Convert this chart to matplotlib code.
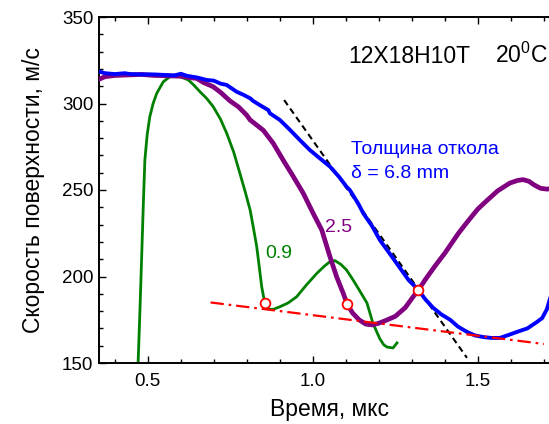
import matplotlib
matplotlib.use("Agg")
import matplotlib.pyplot as plt
from matplotlib.ticker import MultipleLocator, FormatStrFormatter

plt.rcParams['font.family'] = ['Liberation Sans', 'DejaVu Sans']
plt.rcParams['mathtext.fontset'] = 'custom'
plt.rcParams['mathtext.rm'] = 'Liberation Sans'

# Free-surface velocity profiles, 12X18H10T steel at 20 C
t_68 = [0.352, 0.37, 0.40, 0.43, 0.446, 0.48, 0.52, 0.55, 0.58, 0.60, 0.618, 0.65,
        0.678, 0.70, 0.72, 0.739, 0.769, 0.79, 0.81, 0.819, 0.84, 0.865, 0.87, 0.90,
        0.931, 0.96, 0.991, 1.02, 1.052, 1.08, 1.102, 1.112, 1.138, 1.153, 1.18,
        1.203, 1.23, 1.254, 1.29, 1.320, 1.34, 1.364, 1.39, 1.416, 1.44, 1.467,
        1.49, 1.516, 1.54, 1.567, 1.59, 1.619, 1.65, 1.679, 1.695, 1.709, 1.72,
        1.735, 1.75]
v_68 = [318.5, 317.5, 317.0, 317.5, 317.0, 316.8, 316.8, 316.5, 316.2, 317.2, 316.0,
        315.0, 313.6, 313.2, 311.5, 310.7, 306.8, 305.0, 303.0, 301.5, 299.0, 296.2,
        294.3, 290.5, 284.7, 279.0, 273.1, 268.5, 263.5, 257.5, 251.9, 250.0, 242.0,
        236.5, 229.0, 221.1, 214.0, 207.6, 198.0, 192.2, 187.0, 182.0, 178.0, 175.0,
        171.0, 168.0, 166.0, 165.0, 164.5, 164.5, 166.0, 168.0, 170.0, 173.7, 176.0,
        181.0, 188.0, 197.0, 205.0]

t_25 = [0.352, 0.37, 0.40, 0.44, 0.48, 0.52, 0.56, 0.60, 0.625, 0.648, 0.67, 0.698,
        0.72, 0.749, 0.775, 0.799, 0.81, 0.83, 0.850, 0.860, 0.880, 0.910, 0.941,
        0.971, 1.001, 1.027, 1.052, 1.072, 1.092, 1.104, 1.12, 1.14, 1.16, 1.18,
        1.20, 1.22, 1.25, 1.28, 1.304, 1.320, 1.34, 1.37, 1.40, 1.441, 1.47, 1.50,
        1.528, 1.56, 1.597, 1.62, 1.637, 1.655, 1.67, 1.69, 1.709, 1.73, 1.75]
v_25 = [314.0, 315.5, 316.2, 316.5, 316.8, 316.2, 316.0, 315.8, 315.0, 314.5, 312.0,
        309.7, 306.5, 301.5, 298.0, 293.4, 290.5, 287.5, 284.5, 282.0, 277.0, 267.3,
        257.7, 248.1, 236.5, 226.9, 211.4, 199.9, 190.3, 184.1, 179.0, 175.0, 172.5,
        172.0, 173.0, 174.5, 177.0, 182.0, 188.3, 192.2, 198.0, 206.0, 213.5, 224.9,
        232.0, 239.0, 244.0, 249.5, 254.0, 255.5, 256.0, 255.0, 253.0, 251.0, 250.5,
        251.0, 252.0]

t_09 = [0.4705, 0.476, 0.481, 0.486, 0.491, 0.498, 0.506, 0.516, 0.527, 0.547, 0.567,
        0.597, 0.623, 0.640, 0.658, 0.678, 0.698, 0.720, 0.739, 0.760, 0.779, 0.795,
        0.810, 0.820, 0.830, 0.838, 0.845, 0.850, 0.855, 0.862, 0.870, 0.880, 0.90,
        0.925, 0.951, 0.98, 1.012, 1.035, 1.052, 1.067, 1.085, 1.102, 1.122, 1.138,
        1.164, 1.182, 1.203, 1.215, 1.225, 1.243, 1.255]
v_09 = [150.0, 180.0, 209.5, 240.0, 267.3, 282.0, 292.4, 300.0, 305.9, 312.6, 315.5,
        315.5, 313.6, 310.5, 306.8, 303.0, 298.2, 291.0, 282.8, 272.0, 259.6, 249.0,
        238.4, 228.0, 217.2, 205.0, 194.1, 189.0, 184.5, 182.0, 181.0, 181.0, 182.5,
        184.7, 188.3, 195.0, 201.8, 206.0, 208.6, 209.2, 207.0, 203.8, 198.0, 193.0,
        184.7, 173.0, 164.0, 160.5, 159.2, 158.7, 161.6]

# Spall-pulse points and guide lines
mark_t = [0.855, 1.105, 1.320]
mark_v = [184.5, 184.0, 192.2]
base_t = [0.69, 1.70]
base_v = [185.0, 161.0]
slope_t = [0.913, 1.467]
slope_v = [302.0, 153.0]

x_lim = (0.352, 1.752)
y_lim = (150, 350)

fig = plt.figure(figsize=(5.49, 4.24), dpi=100)
ax = fig.add_axes([99 / 549, 61 / 424, 462 / 549, 346 / 424])

ax.plot(slope_t, slope_v, color='black', lw=1.5, dashes=(3, 2), zorder=1)
ax.plot(t_09, v_09, color='#008000', lw=2.0, zorder=2)
ax.plot(t_25, v_25, color='#800080', lw=3.4, zorder=3)
ax.plot(t_68, v_68, color='#0000ff', lw=2.8, zorder=4)
ax.plot(base_t, base_v, color='#ff0000', lw=1.6, dashes=(6, 2.2, 1.2, 2.2), zorder=5)
ax.plot(mark_t, mark_v, linestyle='none', marker='o', ms=7, mfc='white',
        mec='#ff0000', mew=1.3, zorder=6)

ax.set_xlim(*x_lim)
ax.set_ylim(*y_lim)
ax.xaxis.set_major_locator(MultipleLocator(0.5))
ax.xaxis.set_minor_locator(MultipleLocator(0.1))
ax.yaxis.set_major_locator(MultipleLocator(50))
ax.yaxis.set_minor_locator(MultipleLocator(10))
ax.tick_params(which='both', direction='in', top=True, right=True, width=1.0)
ax.tick_params(which='major', length=5, labelsize=13.5)
ax.tick_params(axis='x', which='major', pad=7)
ax.tick_params(axis='y', which='major', pad=4)
ax.tick_params(which='minor', length=3)
ax.xaxis.set_major_formatter(FormatStrFormatter('%.1f'))
for s in ax.spines.values():
    s.set_linewidth(1.4)

ax.set_xlabel('Время, мкс', fontsize=16.5, labelpad=6)
ax.set_ylabel('Скорость поверхности, м/с', fontsize=16.5, labelpad=12)

ax.text(1.107, 323.4, '12X18H10T', fontsize=16.5, ha='left', va='baseline')
ax.text(1.553, 323.4, r'$\mathregular{20^0C}$', fontsize=16.5, ha='left', va='baseline')
ax.text(1.116, 270.8, 'Толщина откола', color='#0000ff', fontsize=14,
        ha='left', va='baseline')
ax.text(1.116, 256.9, 'δ = 6.8 mm', color='#0000ff', fontsize=14,
        ha='left', va='baseline')
ax.text(1.037, 225.9, '2.5', color='#800080', fontsize=14, ha='left', va='baseline')
ax.text(0.855, 210.5, '0.9', color='#008000', fontsize=14, ha='left', va='baseline')

fig.savefig('out.png', dpi=100)
